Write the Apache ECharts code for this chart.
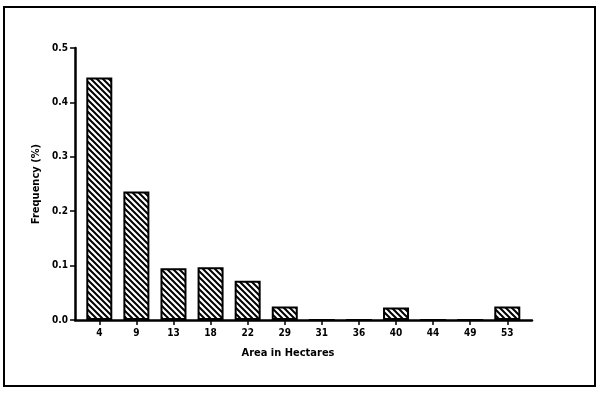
<!DOCTYPE html>
<html>
<head>
<meta charset="utf-8">
<script src="https://cdn.jsdelivr.net/npm/echarts@6/dist/echarts.min.js"></script>
<style>
html,body{margin:0;padding:0;background:#fff;}
#c{width:600px;height:393px;}
</style>
</head>
<body>
<div id="c"></div>
<script>
const categories = ['4','9','13','18','22','29','31','36','40','44','49','53'];
const frequency = [0.446, 0.236, 0.095, 0.097, 0.072, 0.025, 0, 0, 0.023, 0, 0, 0.025];
const yTicks = [0, 0.1, 0.2, 0.3, 0.4, 0.5];

const FONT = '"Liberation Sans Narrow", "DejaVu Sans Condensed", "Liberation Sans", sans-serif';

function hatch() {
  const s = 6;
  const cv = document.createElement('canvas');
  cv.width = s; cv.height = s;
  const g = cv.getContext('2d');
  g.fillStyle = '#fff';
  g.fillRect(0, 0, s, s);
  g.strokeStyle = '#000';
  g.lineWidth = 2;
  g.beginPath();
  g.moveTo(-2, -2); g.lineTo(s + 2, s + 2);
  g.moveTo(-2, s - 2); g.lineTo(2, s + 2);
  g.moveTo(s - 2, -2); g.lineTo(s + 2, 2);
  g.stroke();
  return cv;
}

const chart = echarts.init(document.getElementById('c'), null, {renderer: 'canvas'});
const axisGrid = {left: 75, top: 48, width: 457, height: 272};
const barGrid = {left: 80.75, top: 48, width: 445.1, height: 272};

chart.setOption({
  animation: false,
  backgroundColor: '#fff',
  grid: [
    Object.assign({containLabel: false}, axisGrid),
    Object.assign({containLabel: false}, barGrid)
  ],
  xAxis: [
    {
      type: 'value', gridIndex: 0, min: 0, max: 1,
      axisLine: {show: true, lineStyle: {color: '#000', width: 2.5}},
      axisTick: {show: false}, axisLabel: {show: false}, splitLine: {show: false}
    },
    {
      type: 'category', gridIndex: 1, data: categories,
      axisLine: {show: false},
      axisTick: {show: true, alignWithLabel: true, length: 5, lineStyle: {color: '#000', width: 1.5}},
      axisLabel: {color: '#000', fontFamily: FONT, fontWeight: 'bold', fontSize: 10, margin: 8},
      splitLine: {show: false}
    }
  ],
  yAxis: [
    {
      type: 'value', gridIndex: 0, min: 0, max: 0.5, interval: 0.1,
      axisLine: {show: true, lineStyle: {color: '#000', width: 2.5}},
      axisTick: {show: true, inside: false, length: 5, lineStyle: {color: '#000', width: 1.5}},
      axisLabel: {color: '#000', fontFamily: FONT, fontWeight: 'bold', fontSize: 10, margin: 7,
        formatter: v => yTicks.includes(Math.round(v * 10) / 10) ? v.toFixed(1) : ''},
      splitLine: {show: false},
      name: 'Frequency (%)', nameLocation: 'middle', nameGap: 29,
      nameTextStyle: {color: '#000', fontFamily: FONT, fontWeight: 'bold', fontSize: 11}
    },
    {
      type: 'value', gridIndex: 1, min: 0, max: 0.5, show: false
    }
  ],
  graphic: [
    {type: 'rect', shape: {x: 4, y: 7, width: 591, height: 379}, style: {fill: 'none', stroke: '#000', lineWidth: 2}, silent: true},
    {type: 'text', x: 288, y: 353, style: {text: 'Area in Hectares', fill: '#000', font: 'bold 11px ' + FONT, textAlign: 'center', textVerticalAlign: 'middle'}}
  ],
  series: [{
    type: 'bar', xAxisIndex: 1, yAxisIndex: 1, data: frequency,
    barWidth: 26,
    itemStyle: {color: {image: hatch(), repeat: 'repeat'}, borderColor: '#000', borderWidth: 2}
  }]
});
</script>
</body>
</html>
